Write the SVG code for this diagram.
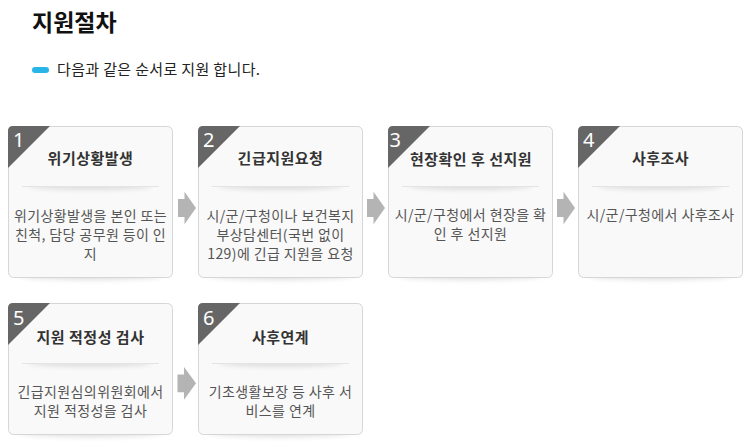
<svg xmlns="http://www.w3.org/2000/svg" width="754" height="448" viewBox="0 0 754 448">
<style>
text{font-family:"Noto Sans CJK KR","Noto Sans",sans-serif}
.h1{font-size:23px;font-weight:bold;fill:#111}
.sub{font-size:15px;fill:#222;letter-spacing:0.35px}
.box{fill:#f9f9f9;stroke:#d6d6d6;stroke-width:1}
.tri{fill:#666}
.num{font-size:20px;fill:#fff;font-family:"Noto Sans","DejaVu Sans",sans-serif}
.title{font-size:15px;font-weight:bold;fill:#333;text-anchor:middle;letter-spacing:0.5px}
.body{font-size:14px;fill:#555;text-anchor:middle;letter-spacing:0.4px}
.sep{stroke:#e4e4e4;stroke-width:1}
.arrow{fill:#b4b4b4}
.bshadow{fill:#000;opacity:0.16;filter:url(#blur3)}
.sshadow{fill:#000;opacity:0.10;filter:url(#blur2)}
</style>
<defs>
<filter id="blur3" x="-20%" y="-200%" width="140%" height="500%"><feGaussianBlur stdDeviation="3"/></filter>
<filter id="blur2" x="-20%" y="-200%" width="140%" height="500%"><feGaussianBlur stdDeviation="2.5"/></filter>
<clipPath id="below" clipPathUnits="userSpaceOnUse"><rect x="0" y="61" width="165" height="20"/></clipPath>
</defs>
<rect width="754" height="448" fill="#fff"/>
<g id="header">
<text class="h1" x="32" y="31">지원절차</text>
<rect x="32" y="67" width="17" height="6" rx="3" fill="#29b5e8"/>
<text class="sub" x="57" y="75">다음과 같은 순서로 지원 합니다.</text>
</g>
<g id="node1" transform="translate(8,126)">
<ellipse class="bshadow" cx="82.5" cy="148" rx="72" ry="5"/>
<rect class="box" x="0.5" y="0.5" width="164" height="151" rx="5"/>
<path class="tri" d="M0,42 L0,5 Q0,0 5,0 L42,0 Z"/>
<text class="num" x="5" y="21">1</text>
<text class="title" x="82.5" y="38">위기상황발생</text>
<ellipse class="sshadow" cx="82.5" cy="60" rx="62" ry="4" clip-path="url(#below)"/>
<line class="sep" x1="14" y1="60.5" x2="151" y2="60.5"/>
<text class="body" x="82.5" y="95">위기상황발생을 본인 또는</text>
<text class="body" x="82.5" y="114">친척, 담당 공무원 등이 인</text>
<text class="body" x="82.5" y="133">지</text>
</g>
<g id="node2" transform="translate(198,126)">
<ellipse class="bshadow" cx="82.5" cy="148" rx="72" ry="5"/>
<rect class="box" x="0.5" y="0.5" width="164" height="151" rx="5"/>
<path class="tri" d="M0,42 L0,5 Q0,0 5,0 L42,0 Z"/>
<text class="num" x="5" y="21">2</text>
<text class="title" x="82.5" y="38">긴급지원요청</text>
<ellipse class="sshadow" cx="82.5" cy="60" rx="62" ry="4" clip-path="url(#below)"/>
<line class="sep" x1="14" y1="60.5" x2="151" y2="60.5"/>
<text class="body" x="82.5" y="95">시/군/구청이나 보건복지</text>
<text class="body" x="82.5" y="114">부상담센터(국번 없이</text>
<text class="body" x="82.5" y="133">129)에 긴급 지원을 요청</text>
</g>
<g id="node3" transform="translate(388,126)">
<ellipse class="bshadow" cx="82.5" cy="148" rx="72" ry="5"/>
<rect class="box" x="0.5" y="0.5" width="164" height="151" rx="5"/>
<path class="tri" d="M0,42 L0,5 Q0,0 5,0 L42,0 Z"/>
<text class="num" x="1.5" y="21">3</text>
<text class="title" x="83" y="39">현장확인 후 선지원</text>
<ellipse class="sshadow" cx="82.5" cy="60" rx="62" ry="4" clip-path="url(#below)"/>
<line class="sep" x1="14" y1="60.5" x2="151" y2="60.5"/>
<text class="body" x="82.5" y="94">시/군/구청에서 현장을 확</text>
<text class="body" x="82.5" y="113">인 후 선지원</text>
</g>
<g id="node4" transform="translate(578,126)">
<ellipse class="bshadow" cx="82.5" cy="148" rx="72" ry="5"/>
<rect class="box" x="0.5" y="0.5" width="164" height="151" rx="5"/>
<path class="tri" d="M0,42 L0,5 Q0,0 5,0 L42,0 Z"/>
<text class="num" x="5" y="21">4</text>
<text class="title" x="82.5" y="38">사후조사</text>
<ellipse class="sshadow" cx="82.5" cy="60" rx="62" ry="4" clip-path="url(#below)"/>
<line class="sep" x1="14" y1="60.5" x2="151" y2="60.5"/>
<text class="body" x="82.5" y="94">시/군/구청에서 사후조사</text>
</g>
<g id="node5" transform="translate(8,303)">
<ellipse class="bshadow" cx="82.5" cy="128" rx="72" ry="5"/>
<rect class="box" x="0.5" y="0.5" width="164" height="131" rx="5"/>
<path class="tri" d="M0,42 L0,5 Q0,0 5,0 L42,0 Z"/>
<text class="num" x="5" y="22">5</text>
<text class="title" x="82.5" y="40">지원 적정성 검사</text>
<ellipse class="sshadow" cx="82.5" cy="60" rx="62" ry="4" clip-path="url(#below)"/>
<line class="sep" x1="14" y1="60.5" x2="151" y2="60.5"/>
<text class="body" x="82.5" y="94">긴급지원심의위원회에서</text>
<text class="body" x="82.5" y="113">지원 적정성을 검사</text>
</g>
<g id="node6" transform="translate(198,303)">
<ellipse class="bshadow" cx="82.5" cy="128" rx="72" ry="5"/>
<rect class="box" x="0.5" y="0.5" width="164" height="131" rx="5"/>
<path class="tri" d="M0,42 L0,5 Q0,0 5,0 L42,0 Z"/>
<text class="num" x="5" y="22">6</text>
<text class="title" x="82.5" y="40">사후연계</text>
<ellipse class="sshadow" cx="82.5" cy="60" rx="62" ry="4" clip-path="url(#below)"/>
<line class="sep" x1="14" y1="60.5" x2="151" y2="60.5"/>
<text class="body" x="82.5" y="94">기초생활보장 등 사후 서</text>
<text class="body" x="82.5" y="113">비스를 연계</text>
</g>
<g id="connectors">
<path class="arrow" d="M178,199 H184.5 V191.7 L196,208 L184.5,224.3 V217 H178 Z"/>
<path class="arrow" d="M367,199 H373.5 V191.7 L385,208 L373.5,224.3 V217 H367 Z"/>
<path class="arrow" d="M557,199 H563.5 V191.7 L575,208 L563.5,224.3 V217 H557 Z"/>
<path class="arrow" d="M177.5,374.5 H184 V367 L196,383.3 L184,399.7 V392.3 H177.5 Z"/>
</g>
</svg>
